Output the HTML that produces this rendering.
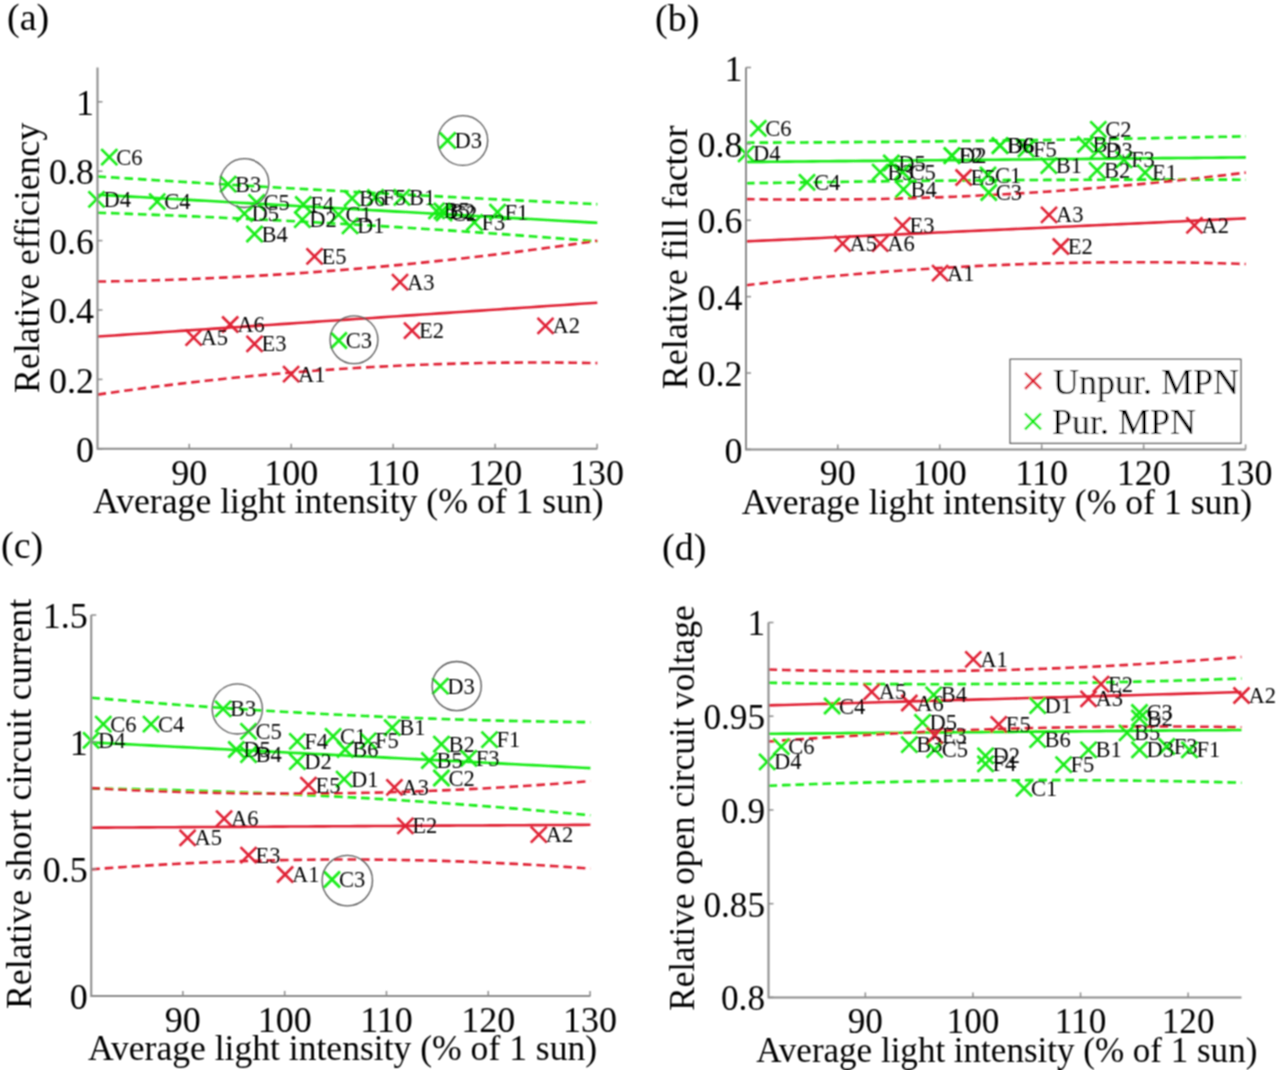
<!DOCTYPE html><html><head><meta charset="utf-8"><style>html,body{margin:0;padding:0;background:#fff;}svg{display:block;}</style></head><body>
<svg width="1280" height="1070" viewBox="0 0 1280 1070" font-family='"Liberation Serif", serif'>
<defs><filter id="bl" x="0" y="0" width="1280" height="1070" filterUnits="userSpaceOnUse"><feConvolveMatrix order="3" kernelMatrix="1 2 1 2 4 2 1 2 1" divisor="16" edgeMode="duplicate"/></filter></defs>
<rect width="1280" height="1070" fill="#fff"/>
<g filter="url(#bl)">
<polyline points="97.50,176.47 105.83,177.01 114.16,177.54 122.49,178.08 130.82,178.61 139.15,179.13 147.48,179.66 155.81,180.18 164.14,180.70 172.47,181.22 180.80,181.73 189.13,182.24 197.46,182.75 205.79,183.26 214.12,183.77 222.45,184.27 230.78,184.77 239.11,185.26 247.44,185.76 255.77,186.25 264.10,186.74 272.43,187.23 280.76,187.71 289.09,188.19 297.42,188.67 305.75,189.15 314.08,189.62 322.41,190.09 330.74,190.56 339.07,191.02 347.40,191.49 355.73,191.95 364.06,192.41 372.39,192.86 380.72,193.31 389.05,193.76 397.38,194.21 405.71,194.66 414.04,195.10 422.37,195.54 430.70,195.98 439.03,196.41 447.36,196.85 455.69,197.28 464.02,197.70 472.35,198.13 480.68,198.55 489.01,198.97 497.34,199.39 505.67,199.80 514.00,200.21 522.33,200.62 530.66,201.03 538.99,201.43 547.32,201.83 555.65,202.23 563.98,202.63 572.31,203.02 580.64,203.41 588.97,203.80 597.30,204.19" fill="none" stroke="#14ec14" stroke-width="2.6" stroke-dasharray="8.6 4.9"/>
<polyline points="97.50,194.73 105.83,195.20 114.16,195.66 122.49,196.13 130.82,196.60 139.15,197.07 147.48,197.54 155.81,198.01 164.14,198.47 172.47,198.94 180.80,199.41 189.13,199.88 197.46,200.35 205.79,200.81 214.12,201.28 222.45,201.75 230.78,202.22 239.11,202.69 247.44,203.15 255.77,203.62 264.10,204.09 272.43,204.56 280.76,205.03 289.09,205.50 297.42,205.96 305.75,206.43 314.08,206.90 322.41,207.37 330.74,207.84 339.07,208.30 347.40,208.77 355.73,209.24 364.06,209.71 372.39,210.18 380.72,210.65 389.05,211.11 397.38,211.58 405.71,212.05 414.04,212.52 422.37,212.99 430.70,213.45 439.03,213.92 447.36,214.39 455.69,214.86 464.02,215.33 472.35,215.79 480.68,216.26 489.01,216.73 497.34,217.20 505.67,217.67 514.00,218.14 522.33,218.60 530.66,219.07 538.99,219.54 547.32,220.01 555.65,220.48 563.98,220.94 572.31,221.41 580.64,221.88 588.97,222.35 597.30,222.82" fill="none" stroke="#14ec14" stroke-width="2.6"/>
<polyline points="97.50,212.68 105.83,212.97 114.16,213.26 122.49,213.56 130.82,213.87 139.15,214.19 147.48,214.51 155.81,214.84 164.14,215.17 172.47,215.51 180.80,215.86 189.13,216.21 197.46,216.57 205.79,216.94 214.12,217.31 222.45,217.69 230.78,218.08 239.11,218.47 247.44,218.87 255.77,219.27 264.10,219.69 272.43,220.10 280.76,220.53 289.09,220.96 297.42,221.39 305.75,221.84 314.08,222.29 322.41,222.74 330.74,223.21 339.07,223.67 347.40,224.15 355.73,224.63 364.06,225.12 372.39,225.61 380.72,226.11 389.05,226.62 397.38,227.14 405.71,227.66 414.04,228.18 422.37,228.71 430.70,229.25 439.03,229.80 447.36,230.35 455.69,230.91 464.02,231.48 472.35,232.05 480.68,232.62 489.01,233.21 497.34,233.80 505.67,234.40 514.00,235.00 522.33,235.61 530.66,236.22 538.99,236.85 547.32,237.48 555.65,238.11 563.98,238.75 572.31,239.40 580.64,240.05 588.97,240.72 597.30,241.38" fill="none" stroke="#14ec14" stroke-width="2.6" stroke-dasharray="8.6 4.9"/>
<polyline points="97.50,281.57 105.83,281.44 114.16,281.29 122.49,281.12 130.82,280.93 139.15,280.73 147.48,280.50 155.81,280.26 164.14,280.00 172.47,279.71 180.80,279.41 189.13,279.10 197.46,278.76 205.79,278.40 214.12,278.03 222.45,277.64 230.78,277.23 239.11,276.80 247.44,276.35 255.77,275.88 264.10,275.40 272.43,274.89 280.76,274.37 289.09,273.83 297.42,273.27 305.75,272.69 314.08,272.09 322.41,271.48 330.74,270.84 339.07,270.19 347.40,269.52 355.73,268.83 364.06,268.12 372.39,267.39 380.72,266.65 389.05,265.88 397.38,265.10 405.71,264.30 414.04,263.48 422.37,262.64 430.70,261.78 439.03,260.91 447.36,260.01 455.69,259.10 464.02,258.17 472.35,257.22 480.68,256.25 489.01,255.26 497.34,254.26 505.67,253.23 514.00,252.19 522.33,251.13 530.66,250.05 538.99,248.95 547.32,247.83 555.65,246.70 563.98,245.54 572.31,244.37 580.64,243.18 588.97,241.97 597.30,240.74" fill="none" stroke="#e02236" stroke-width="2.6" stroke-dasharray="8.6 4.9"/>
<polyline points="97.50,336.57 105.83,336.00 114.16,335.44 122.49,334.87 130.82,334.31 139.15,333.74 147.48,333.18 155.81,332.61 164.14,332.05 172.47,331.48 180.80,330.92 189.13,330.35 197.46,329.79 205.79,329.22 214.12,328.66 222.45,328.09 230.78,327.53 239.11,326.96 247.44,326.40 255.77,325.84 264.10,325.27 272.43,324.71 280.76,324.14 289.09,323.58 297.42,323.01 305.75,322.45 314.08,321.88 322.41,321.32 330.74,320.75 339.07,320.19 347.40,319.62 355.73,319.06 364.06,318.49 372.39,317.93 380.72,317.36 389.05,316.80 397.38,316.23 405.71,315.67 414.04,315.10 422.37,314.54 430.70,313.98 439.03,313.41 447.36,312.85 455.69,312.28 464.02,311.72 472.35,311.15 480.68,310.59 489.01,310.02 497.34,309.46 505.67,308.89 514.00,308.33 522.33,307.76 530.66,307.20 538.99,306.63 547.32,306.07 555.65,305.50 563.98,304.94 572.31,304.37 580.64,303.81 588.97,303.24 597.30,302.68" fill="none" stroke="#e02236" stroke-width="2.6"/>
<polyline points="97.50,394.60 105.83,393.40 114.16,392.22 122.49,391.06 130.82,389.93 139.15,388.81 147.48,387.72 155.81,386.66 164.14,385.62 172.47,384.60 180.80,383.60 189.13,382.62 197.46,381.67 205.79,380.75 214.12,379.84 222.45,378.96 230.78,378.10 239.11,377.26 247.44,376.45 255.77,375.66 264.10,374.89 272.43,374.15 280.76,373.43 289.09,372.73 297.42,372.06 305.75,371.41 314.08,370.78 322.41,370.17 330.74,369.59 339.07,369.03 347.40,368.49 355.73,367.98 364.06,367.49 372.39,367.02 380.72,366.58 389.05,366.16 397.38,365.76 405.71,365.38 414.04,365.03 422.37,364.70 430.70,364.39 439.03,364.11 447.36,363.85 455.69,363.61 464.02,363.40 472.35,363.21 480.68,363.04 489.01,362.89 497.34,362.77 505.67,362.67 514.00,362.60 522.33,362.54 530.66,362.51 538.99,362.51 547.32,362.52 555.65,362.56 563.98,362.62 572.31,362.71 580.64,362.82 588.97,362.95 597.30,363.10" fill="none" stroke="#e02236" stroke-width="2.6" stroke-dasharray="8.6 4.9"/>
<path d="M101.30 149.10L117.30 165.10M101.30 165.10L117.30 149.10" stroke="#14ec14" stroke-width="2.6"/>
<path d="M88.50 191.40L104.50 207.40M88.50 207.40L104.50 191.40" stroke="#14ec14" stroke-width="2.6"/>
<path d="M149.20 193.70L165.20 209.70M149.20 209.70L165.20 193.70" stroke="#14ec14" stroke-width="2.6"/>
<path d="M220.10 176.10L236.10 192.10M220.10 192.10L236.10 176.10" stroke="#14ec14" stroke-width="2.6"/>
<path d="M248.60 194.40L264.60 210.40M248.60 210.40L264.60 194.40" stroke="#14ec14" stroke-width="2.6"/>
<path d="M236.40 205.60L252.40 221.60M236.40 221.60L252.40 205.60" stroke="#14ec14" stroke-width="2.6"/>
<path d="M246.50 226.00L262.50 242.00M246.50 242.00L262.50 226.00" stroke="#14ec14" stroke-width="2.6"/>
<path d="M295.30 196.50L311.30 212.50M295.30 212.50L311.30 196.50" stroke="#14ec14" stroke-width="2.6"/>
<path d="M294.30 211.70L310.30 227.70M294.30 227.70L310.30 211.70" stroke="#14ec14" stroke-width="2.6"/>
<path d="M344.10 190.40L360.10 206.40M344.10 206.40L360.10 190.40" stroke="#14ec14" stroke-width="2.6"/>
<path d="M330.50 206.60L346.50 222.60M330.50 222.60L346.50 206.60" stroke="#14ec14" stroke-width="2.6"/>
<path d="M342.00 217.80L358.00 233.80M342.00 233.80L358.00 217.80" stroke="#14ec14" stroke-width="2.6"/>
<path d="M367.50 189.30L383.50 205.30M367.50 205.30L383.50 189.30" stroke="#14ec14" stroke-width="2.6"/>
<path d="M393.90 189.30L409.90 205.30M393.90 205.30L409.90 189.30" stroke="#14ec14" stroke-width="2.6"/>
<path d="M439.60 132.50L455.60 148.50M439.60 148.50L455.60 132.50" stroke="#14ec14" stroke-width="2.6"/>
<path d="M428.50 202.80L444.50 218.80M428.50 218.80L444.50 202.80" stroke="#14ec14" stroke-width="2.6"/>
<path d="M436.00 205.00L452.00 221.00M436.00 221.00L452.00 205.00" stroke="#14ec14" stroke-width="2.6"/>
<path d="M434.00 203.00L450.00 219.00M434.00 219.00L450.00 203.00" stroke="#14ec14" stroke-width="2.6"/>
<path d="M330.80 332.50L346.80 348.50M330.80 348.50L346.80 332.50" stroke="#14ec14" stroke-width="2.6"/>
<path d="M466.40 214.30L482.40 230.30M466.40 230.30L482.40 214.30" stroke="#14ec14" stroke-width="2.6"/>
<path d="M489.50 204.20L505.50 220.20M489.50 220.20L505.50 204.20" stroke="#14ec14" stroke-width="2.6"/>
<path d="M306.50 248.40L322.50 264.40M306.50 264.40L322.50 248.40" stroke="#e02236" stroke-width="2.6"/>
<path d="M392.00 274.10L408.00 290.10M392.00 290.10L408.00 274.10" stroke="#e02236" stroke-width="2.6"/>
<path d="M222.20 316.50L238.20 332.50M222.20 332.50L238.20 316.50" stroke="#e02236" stroke-width="2.6"/>
<path d="M185.60 329.70L201.60 345.70M185.60 345.70L201.60 329.70" stroke="#e02236" stroke-width="2.6"/>
<path d="M246.50 335.80L262.50 351.80M246.50 351.80L262.50 335.80" stroke="#e02236" stroke-width="2.6"/>
<path d="M283.10 366.20L299.10 382.20M283.10 382.20L299.10 366.20" stroke="#e02236" stroke-width="2.6"/>
<path d="M404.00 322.60L420.00 338.60M404.00 338.60L420.00 322.60" stroke="#e02236" stroke-width="2.6"/>
<path d="M537.50 317.80L553.50 333.80M537.50 333.80L553.50 317.80" stroke="#e02236" stroke-width="2.6"/>
<circle cx="244.40" cy="183.10" r="24.40" fill="none" stroke="#555" stroke-width="1.3"/>
<circle cx="462.80" cy="140.50" r="24.90" fill="none" stroke="#555" stroke-width="1.3"/>
<circle cx="354.00" cy="339.80" r="23.90" fill="none" stroke="#555" stroke-width="1.3"/>
<text x="116.30" y="164.60" font-size="22.5" text-anchor="start" fill="#000">C6</text>
<text x="103.50" y="206.90" font-size="22.5" text-anchor="start" fill="#000">D4</text>
<text x="164.20" y="209.20" font-size="22.5" text-anchor="start" fill="#000">C4</text>
<text x="235.10" y="191.60" font-size="22.5" text-anchor="start" fill="#000">B3</text>
<text x="263.60" y="209.90" font-size="22.5" text-anchor="start" fill="#000">C5</text>
<text x="251.40" y="221.10" font-size="22.5" text-anchor="start" fill="#000">D5</text>
<text x="261.50" y="241.50" font-size="22.5" text-anchor="start" fill="#000">B4</text>
<text x="310.30" y="212.00" font-size="22.5" text-anchor="start" fill="#000">F4</text>
<text x="309.30" y="227.20" font-size="22.5" text-anchor="start" fill="#000">D2</text>
<text x="359.10" y="205.90" font-size="22.5" text-anchor="start" fill="#000">B6</text>
<text x="345.50" y="222.10" font-size="22.5" text-anchor="start" fill="#000">C1</text>
<text x="357.00" y="233.30" font-size="22.5" text-anchor="start" fill="#000">D1</text>
<text x="382.50" y="204.80" font-size="22.5" text-anchor="start" fill="#000">F5</text>
<text x="408.90" y="204.80" font-size="22.5" text-anchor="start" fill="#000">B1</text>
<text x="454.60" y="148.00" font-size="22.5" text-anchor="start" fill="#000">D3</text>
<text x="443.50" y="218.30" font-size="22.5" text-anchor="start" fill="#000">B5</text>
<text x="451.00" y="220.50" font-size="22.5" text-anchor="start" fill="#000">C2</text>
<text x="449.00" y="218.50" font-size="22.5" text-anchor="start" fill="#000">B2</text>
<text x="345.80" y="348.00" font-size="22.5" text-anchor="start" fill="#000">C3</text>
<text x="481.40" y="229.80" font-size="22.5" text-anchor="start" fill="#000">F3</text>
<text x="504.50" y="219.70" font-size="22.5" text-anchor="start" fill="#000">F1</text>
<text x="321.50" y="263.90" font-size="22.5" text-anchor="start" fill="#000">E5</text>
<text x="407.00" y="289.60" font-size="22.5" text-anchor="start" fill="#000">A3</text>
<text x="237.20" y="332.00" font-size="22.5" text-anchor="start" fill="#000">A6</text>
<text x="200.60" y="345.20" font-size="22.5" text-anchor="start" fill="#000">A5</text>
<text x="261.50" y="351.30" font-size="22.5" text-anchor="start" fill="#000">E3</text>
<text x="298.10" y="381.70" font-size="22.5" text-anchor="start" fill="#000">A1</text>
<text x="419.00" y="338.10" font-size="22.5" text-anchor="start" fill="#000">E2</text>
<text x="552.50" y="333.30" font-size="22.5" text-anchor="start" fill="#000">A2</text>
<path d="M97.5 67.5L97.5 448.8L597.3 448.8" fill="none" stroke="#8c8c8c" stroke-width="2"/>
<line x1="189.26" y1="448.80" x2="189.26" y2="443.80" stroke="#8c8c8c" stroke-width="1.5"/>
<text x="189.26" y="484.80" font-size="36" text-anchor="middle" fill="#000">90</text>
<line x1="291.22" y1="448.80" x2="291.22" y2="443.80" stroke="#8c8c8c" stroke-width="1.5"/>
<text x="291.22" y="484.80" font-size="36" text-anchor="middle" fill="#000">100</text>
<line x1="393.18" y1="448.80" x2="393.18" y2="443.80" stroke="#8c8c8c" stroke-width="1.5"/>
<text x="393.18" y="484.80" font-size="36" text-anchor="middle" fill="#000">110</text>
<line x1="495.14" y1="448.80" x2="495.14" y2="443.80" stroke="#8c8c8c" stroke-width="1.5"/>
<text x="495.14" y="484.80" font-size="36" text-anchor="middle" fill="#000">120</text>
<line x1="597.10" y1="448.80" x2="597.10" y2="443.80" stroke="#8c8c8c" stroke-width="1.5"/>
<text x="597.10" y="484.80" font-size="36" text-anchor="middle" fill="#000">130</text>
<line x1="97.50" y1="448.80" x2="102.50" y2="448.80" stroke="#8c8c8c" stroke-width="1.5"/>
<text x="94.00" y="462.01" font-size="36" text-anchor="end" fill="#000">0</text>
<line x1="97.50" y1="379.40" x2="102.50" y2="379.40" stroke="#8c8c8c" stroke-width="1.5"/>
<text x="94.00" y="392.61" font-size="36" text-anchor="end" fill="#000">0.2</text>
<line x1="97.50" y1="310.00" x2="102.50" y2="310.00" stroke="#8c8c8c" stroke-width="1.5"/>
<text x="94.00" y="323.21" font-size="36" text-anchor="end" fill="#000">0.4</text>
<line x1="97.50" y1="240.60" x2="102.50" y2="240.60" stroke="#8c8c8c" stroke-width="1.5"/>
<text x="94.00" y="253.81" font-size="36" text-anchor="end" fill="#000">0.6</text>
<line x1="97.50" y1="171.20" x2="102.50" y2="171.20" stroke="#8c8c8c" stroke-width="1.5"/>
<text x="94.00" y="184.41" font-size="36" text-anchor="end" fill="#000">0.8</text>
<line x1="97.50" y1="101.80" x2="102.50" y2="101.80" stroke="#8c8c8c" stroke-width="1.5"/>
<text x="94.00" y="115.01" font-size="36" text-anchor="end" fill="#000">1</text>
<text x="348.40" y="513.30" font-size="35.7" text-anchor="middle" fill="#000">Average light intensity (% of 1 sun)</text>
<text x="0" y="0" font-size="35.75" text-anchor="middle" transform="translate(38.50,257.90) rotate(-90)">Relative efficiency</text>
<text x="7.00" y="30.00" font-size="38" text-anchor="start" fill="#000">(a)</text>
<polyline points="746.00,142.70 754.33,142.67 762.66,142.64 770.99,142.60 779.32,142.56 787.65,142.52 795.98,142.48 804.31,142.43 812.64,142.38 820.97,142.33 829.30,142.28 837.63,142.22 845.96,142.16 854.29,142.10 862.62,142.03 870.95,141.97 879.28,141.90 887.61,141.83 895.94,141.75 904.27,141.67 912.60,141.59 920.93,141.51 929.26,141.43 937.59,141.34 945.92,141.25 954.25,141.16 962.58,141.06 970.91,140.96 979.24,140.86 987.57,140.76 995.90,140.65 1004.23,140.54 1012.56,140.43 1020.89,140.32 1029.22,140.20 1037.55,140.09 1045.88,139.96 1054.21,139.84 1062.54,139.71 1070.87,139.59 1079.20,139.45 1087.53,139.32 1095.86,139.18 1104.19,139.04 1112.52,138.90 1120.85,138.76 1129.18,138.61 1137.51,138.46 1145.84,138.31 1154.17,138.15 1162.50,138.00 1170.83,137.84 1179.16,137.68 1187.49,137.51 1195.82,137.34 1204.15,137.17 1212.48,137.00 1220.81,136.82 1229.14,136.65 1237.47,136.47 1245.80,136.28" fill="none" stroke="#14ec14" stroke-width="2.6" stroke-dasharray="8.6 4.9"/>
<polyline points="746.00,162.00 754.33,161.92 762.66,161.85 770.99,161.77 779.32,161.69 787.65,161.62 795.98,161.54 804.31,161.46 812.64,161.39 820.97,161.31 829.30,161.23 837.63,161.16 845.96,161.08 854.29,161.00 862.62,160.92 870.95,160.85 879.28,160.77 887.61,160.69 895.94,160.62 904.27,160.54 912.60,160.46 920.93,160.39 929.26,160.31 937.59,160.23 945.92,160.16 954.25,160.08 962.58,160.00 970.91,159.93 979.24,159.85 987.57,159.77 995.90,159.70 1004.23,159.62 1012.56,159.54 1020.89,159.47 1029.22,159.39 1037.55,159.31 1045.88,159.24 1054.21,159.16 1062.54,159.08 1070.87,159.01 1079.20,158.93 1087.53,158.85 1095.86,158.77 1104.19,158.70 1112.52,158.62 1120.85,158.54 1129.18,158.47 1137.51,158.39 1145.84,158.31 1154.17,158.24 1162.50,158.16 1170.83,158.08 1179.16,158.01 1187.49,157.93 1195.82,157.85 1204.15,157.78 1212.48,157.70 1220.81,157.62 1229.14,157.55 1237.47,157.47 1245.80,157.39" fill="none" stroke="#14ec14" stroke-width="2.6"/>
<polyline points="746.00,183.30 754.33,183.16 762.66,183.02 770.99,182.88 779.32,182.74 787.65,182.61 795.98,182.48 804.31,182.36 812.64,182.23 820.97,182.11 829.30,181.99 837.63,181.88 845.96,181.77 854.29,181.66 862.62,181.55 870.95,181.45 879.28,181.35 887.61,181.25 895.94,181.15 904.27,181.06 912.60,180.97 920.93,180.88 929.26,180.80 937.59,180.72 945.92,180.64 954.25,180.56 962.58,180.49 970.91,180.42 979.24,180.35 987.57,180.29 995.90,180.23 1004.23,180.17 1012.56,180.11 1020.89,180.06 1029.22,180.01 1037.55,179.96 1045.88,179.92 1054.21,179.88 1062.54,179.84 1070.87,179.80 1079.20,179.77 1087.53,179.74 1095.86,179.71 1104.19,179.69 1112.52,179.67 1120.85,179.65 1129.18,179.63 1137.51,179.62 1145.84,179.61 1154.17,179.60 1162.50,179.60 1170.83,179.59 1179.16,179.59 1187.49,179.60 1195.82,179.60 1204.15,179.61 1212.48,179.63 1220.81,179.64 1229.14,179.66 1237.47,179.68 1245.80,179.70" fill="none" stroke="#14ec14" stroke-width="2.6" stroke-dasharray="8.6 4.9"/>
<polyline points="746.00,199.10 754.33,199.24 762.66,199.36 770.99,199.46 779.32,199.54 787.65,199.60 795.98,199.64 804.31,199.66 812.64,199.67 820.97,199.65 829.30,199.61 837.63,199.55 845.96,199.48 854.29,199.38 862.62,199.26 870.95,199.13 879.28,198.97 887.61,198.80 895.94,198.60 904.27,198.39 912.60,198.15 920.93,197.90 929.26,197.62 937.59,197.33 945.92,197.01 954.25,196.68 962.58,196.33 970.91,195.96 979.24,195.56 987.57,195.15 995.90,194.72 1004.23,194.27 1012.56,193.80 1020.89,193.31 1029.22,192.80 1037.55,192.27 1045.88,191.72 1054.21,191.15 1062.54,190.56 1070.87,189.95 1079.20,189.32 1087.53,188.67 1095.86,188.00 1104.19,187.31 1112.52,186.61 1120.85,185.88 1129.18,185.13 1137.51,184.36 1145.84,183.58 1154.17,182.77 1162.50,181.94 1170.83,181.10 1179.16,180.23 1187.49,179.35 1195.82,178.44 1204.15,177.52 1212.48,176.57 1220.81,175.61 1229.14,174.63 1237.47,173.62 1245.80,172.60" fill="none" stroke="#e02236" stroke-width="2.6" stroke-dasharray="8.6 4.9"/>
<polyline points="746.00,241.40 754.33,241.02 762.66,240.63 770.99,240.25 779.32,239.86 787.65,239.48 795.98,239.10 804.31,238.71 812.64,238.33 820.97,237.94 829.30,237.56 837.63,237.18 845.96,236.79 854.29,236.41 862.62,236.02 870.95,235.64 879.28,235.26 887.61,234.87 895.94,234.49 904.27,234.10 912.60,233.72 920.93,233.34 929.26,232.95 937.59,232.57 945.92,232.19 954.25,231.80 962.58,231.42 970.91,231.03 979.24,230.65 987.57,230.27 995.90,229.88 1004.23,229.50 1012.56,229.11 1020.89,228.73 1029.22,228.35 1037.55,227.96 1045.88,227.58 1054.21,227.19 1062.54,226.81 1070.87,226.43 1079.20,226.04 1087.53,225.66 1095.86,225.27 1104.19,224.89 1112.52,224.51 1120.85,224.12 1129.18,223.74 1137.51,223.35 1145.84,222.97 1154.17,222.59 1162.50,222.20 1170.83,221.82 1179.16,221.43 1187.49,221.05 1195.82,220.67 1204.15,220.28 1212.48,219.90 1220.81,219.51 1229.14,219.13 1237.47,218.75 1245.80,218.36" fill="none" stroke="#e02236" stroke-width="2.6"/>
<polyline points="746.00,285.30 754.33,284.32 762.66,283.37 770.99,282.43 779.32,281.52 787.65,280.63 795.98,279.76 804.31,278.91 812.64,278.08 820.97,277.27 829.30,276.48 837.63,275.72 845.96,274.97 854.29,274.25 862.62,273.54 870.95,272.86 879.28,272.20 887.61,271.56 895.94,270.95 904.27,270.35 912.60,269.77 920.93,269.22 929.26,268.68 937.59,268.17 945.92,267.68 954.25,267.21 962.58,266.76 970.91,266.33 979.24,265.92 987.57,265.54 995.90,265.17 1004.23,264.83 1012.56,264.51 1020.89,264.20 1029.22,263.92 1037.55,263.66 1045.88,263.42 1054.21,263.21 1062.54,263.01 1070.87,262.84 1079.20,262.68 1087.53,262.55 1095.86,262.44 1104.19,262.34 1112.52,262.28 1120.85,262.23 1129.18,262.20 1137.51,262.19 1145.84,262.21 1154.17,262.24 1162.50,262.30 1170.83,262.38 1179.16,262.48 1187.49,262.60 1195.82,262.74 1204.15,262.90 1212.48,263.08 1220.81,263.29 1229.14,263.51 1237.47,263.76 1245.80,264.03" fill="none" stroke="#e02236" stroke-width="2.6" stroke-dasharray="8.6 4.9"/>
<path d="M750.30 120.40L766.30 136.40M750.30 136.40L766.30 120.40" stroke="#14ec14" stroke-width="2.6"/>
<path d="M738.10 145.80L754.10 161.80M738.10 161.80L754.10 145.80" stroke="#14ec14" stroke-width="2.6"/>
<path d="M799.00 174.30L815.00 190.30M799.00 190.30L815.00 174.30" stroke="#14ec14" stroke-width="2.6"/>
<path d="M872.20 164.10L888.20 180.10M872.20 180.10L888.20 164.10" stroke="#14ec14" stroke-width="2.6"/>
<path d="M883.30 155.00L899.30 171.00M883.30 171.00L899.30 155.00" stroke="#14ec14" stroke-width="2.6"/>
<path d="M894.50 164.00L910.50 180.00M894.50 180.00L910.50 164.00" stroke="#14ec14" stroke-width="2.6"/>
<path d="M895.50 181.40L911.50 197.40M895.50 197.40L911.50 181.40" stroke="#14ec14" stroke-width="2.6"/>
<path d="M943.90 147.60L959.90 163.60M943.90 163.60L959.90 147.60" stroke="#14ec14" stroke-width="2.6"/>
<path d="M943.90 147.60L959.90 163.60M943.90 163.60L959.90 147.60" stroke="#14ec14" stroke-width="2.6"/>
<path d="M992.00 137.60L1008.00 153.60M992.00 153.60L1008.00 137.60" stroke="#14ec14" stroke-width="2.6"/>
<path d="M992.00 137.60L1008.00 153.60M992.00 153.60L1008.00 137.60" stroke="#14ec14" stroke-width="2.6"/>
<path d="M1018.00 141.00L1034.00 157.00M1018.00 157.00L1034.00 141.00" stroke="#14ec14" stroke-width="2.6"/>
<path d="M1040.75 157.60L1056.75 173.60M1040.75 173.60L1056.75 157.60" stroke="#14ec14" stroke-width="2.6"/>
<path d="M980.00 167.00L996.00 183.00M980.00 183.00L996.00 167.00" stroke="#14ec14" stroke-width="2.6"/>
<path d="M980.75 184.50L996.75 200.50M980.75 200.50L996.75 184.50" stroke="#14ec14" stroke-width="2.6"/>
<path d="M1090.30 121.30L1106.30 137.30M1090.30 137.30L1106.30 121.30" stroke="#14ec14" stroke-width="2.6"/>
<path d="M1077.40 136.50L1093.40 152.50M1077.40 152.50L1093.40 136.50" stroke="#14ec14" stroke-width="2.6"/>
<path d="M1090.30 142.40L1106.30 158.40M1090.30 158.40L1106.30 142.40" stroke="#14ec14" stroke-width="2.6"/>
<path d="M1089.10 162.30L1105.10 178.30M1089.10 178.30L1105.10 162.30" stroke="#14ec14" stroke-width="2.6"/>
<path d="M1116.00 151.80L1132.00 167.80M1116.00 167.80L1132.00 151.80" stroke="#14ec14" stroke-width="2.6"/>
<path d="M1137.10 164.70L1153.10 180.70M1137.10 180.70L1153.10 164.70" stroke="#14ec14" stroke-width="2.6"/>
<path d="M955.60 169.50L971.60 185.50M955.60 185.50L971.60 169.50" stroke="#e02236" stroke-width="2.6"/>
<path d="M894.50 217.40L910.50 233.40M894.50 233.40L910.50 217.40" stroke="#e02236" stroke-width="2.6"/>
<path d="M834.60 235.70L850.60 251.70M834.60 251.70L850.60 235.70" stroke="#e02236" stroke-width="2.6"/>
<path d="M872.20 235.70L888.20 251.70M872.20 251.70L888.20 235.70" stroke="#e02236" stroke-width="2.6"/>
<path d="M1041.00 206.80L1057.00 222.80M1041.00 222.80L1057.00 206.80" stroke="#e02236" stroke-width="2.6"/>
<path d="M1052.80 238.50L1068.80 254.50M1052.80 254.50L1068.80 238.50" stroke="#e02236" stroke-width="2.6"/>
<path d="M1186.40 217.40L1202.40 233.40M1186.40 233.40L1202.40 217.40" stroke="#e02236" stroke-width="2.6"/>
<path d="M932.10 265.10L948.10 281.10M932.10 281.10L948.10 265.10" stroke="#e02236" stroke-width="2.6"/>
<text x="765.30" y="135.90" font-size="22.5" text-anchor="start" fill="#000">C6</text>
<text x="753.10" y="161.30" font-size="22.5" text-anchor="start" fill="#000">D4</text>
<text x="814.00" y="189.80" font-size="22.5" text-anchor="start" fill="#000">C4</text>
<text x="887.20" y="179.60" font-size="22.5" text-anchor="start" fill="#000">B3</text>
<text x="898.30" y="170.50" font-size="22.5" text-anchor="start" fill="#000">D5</text>
<text x="909.50" y="179.50" font-size="22.5" text-anchor="start" fill="#000">C5</text>
<text x="910.50" y="196.90" font-size="22.5" text-anchor="start" fill="#000">B4</text>
<text x="958.90" y="163.10" font-size="22.5" text-anchor="start" fill="#000">D2</text>
<text x="958.90" y="163.10" font-size="22.5" text-anchor="start" fill="#000">F2</text>
<text x="1007.00" y="153.10" font-size="22.5" text-anchor="start" fill="#000">B6</text>
<text x="1007.00" y="153.10" font-size="22.5" text-anchor="start" fill="#000">D6</text>
<text x="1033.00" y="156.50" font-size="22.5" text-anchor="start" fill="#000">F5</text>
<text x="1055.75" y="173.10" font-size="22.5" text-anchor="start" fill="#000">B1</text>
<text x="995.00" y="182.50" font-size="22.5" text-anchor="start" fill="#000">C1</text>
<text x="995.75" y="200.00" font-size="22.5" text-anchor="start" fill="#000">C3</text>
<text x="1105.30" y="136.80" font-size="22.5" text-anchor="start" fill="#000">C2</text>
<text x="1092.40" y="152.00" font-size="22.5" text-anchor="start" fill="#000">B5</text>
<text x="1105.30" y="157.90" font-size="22.5" text-anchor="start" fill="#000">D3</text>
<text x="1104.10" y="177.80" font-size="22.5" text-anchor="start" fill="#000">B2</text>
<text x="1131.00" y="167.30" font-size="22.5" text-anchor="start" fill="#000">F3</text>
<text x="1152.10" y="180.20" font-size="22.5" text-anchor="start" fill="#000">E1</text>
<text x="970.60" y="185.00" font-size="22.5" text-anchor="start" fill="#000">E5</text>
<text x="909.50" y="232.90" font-size="22.5" text-anchor="start" fill="#000">E3</text>
<text x="849.60" y="251.20" font-size="22.5" text-anchor="start" fill="#000">A5</text>
<text x="887.20" y="251.20" font-size="22.5" text-anchor="start" fill="#000">A6</text>
<text x="1056.00" y="222.30" font-size="22.5" text-anchor="start" fill="#000">A3</text>
<text x="1067.80" y="254.00" font-size="22.5" text-anchor="start" fill="#000">E2</text>
<text x="1201.40" y="232.90" font-size="22.5" text-anchor="start" fill="#000">A2</text>
<text x="947.10" y="280.60" font-size="22.5" text-anchor="start" fill="#000">A1</text>
<path d="M746 67.5L746 449.4L1245.8 449.4" fill="none" stroke="#8c8c8c" stroke-width="2"/>
<line x1="837.76" y1="449.40" x2="837.76" y2="444.40" stroke="#8c8c8c" stroke-width="1.5"/>
<text x="837.76" y="485.40" font-size="36" text-anchor="middle" fill="#000">90</text>
<line x1="939.72" y1="449.40" x2="939.72" y2="444.40" stroke="#8c8c8c" stroke-width="1.5"/>
<text x="939.72" y="485.40" font-size="36" text-anchor="middle" fill="#000">100</text>
<line x1="1041.68" y1="449.40" x2="1041.68" y2="444.40" stroke="#8c8c8c" stroke-width="1.5"/>
<text x="1041.68" y="485.40" font-size="36" text-anchor="middle" fill="#000">110</text>
<line x1="1143.64" y1="449.40" x2="1143.64" y2="444.40" stroke="#8c8c8c" stroke-width="1.5"/>
<text x="1143.64" y="485.40" font-size="36" text-anchor="middle" fill="#000">120</text>
<line x1="1245.60" y1="449.40" x2="1245.60" y2="444.40" stroke="#8c8c8c" stroke-width="1.5"/>
<text x="1245.60" y="485.40" font-size="36" text-anchor="middle" fill="#000">130</text>
<line x1="746.00" y1="449.40" x2="751.00" y2="449.40" stroke="#8c8c8c" stroke-width="1.5"/>
<text x="742.50" y="462.61" font-size="36" text-anchor="end" fill="#000">0</text>
<line x1="746.00" y1="373.02" x2="751.00" y2="373.02" stroke="#8c8c8c" stroke-width="1.5"/>
<text x="742.50" y="386.23" font-size="36" text-anchor="end" fill="#000">0.2</text>
<line x1="746.00" y1="296.64" x2="751.00" y2="296.64" stroke="#8c8c8c" stroke-width="1.5"/>
<text x="742.50" y="309.85" font-size="36" text-anchor="end" fill="#000">0.4</text>
<line x1="746.00" y1="220.26" x2="751.00" y2="220.26" stroke="#8c8c8c" stroke-width="1.5"/>
<text x="742.50" y="233.47" font-size="36" text-anchor="end" fill="#000">0.6</text>
<line x1="746.00" y1="143.88" x2="751.00" y2="143.88" stroke="#8c8c8c" stroke-width="1.5"/>
<text x="742.50" y="157.09" font-size="36" text-anchor="end" fill="#000">0.8</text>
<line x1="746.00" y1="67.50" x2="751.00" y2="67.50" stroke="#8c8c8c" stroke-width="1.5"/>
<text x="742.50" y="80.71" font-size="36" text-anchor="end" fill="#000">1</text>
<text x="996.90" y="513.90" font-size="35.67" text-anchor="middle" fill="#000">Average light intensity (% of 1 sun)</text>
<text x="0" y="0" font-size="36.0" text-anchor="middle" transform="translate(686.50,257.35) rotate(-90)">Relative fill factor</text>
<text x="655.00" y="31.00" font-size="38" text-anchor="start" fill="#000">(b)</text>
<polyline points="91.25,697.72 99.57,698.45 107.89,699.16 116.21,699.86 124.53,700.56 132.85,701.24 141.16,701.91 149.48,702.57 157.80,703.22 166.12,703.86 174.44,704.49 182.76,705.11 191.08,705.71 199.40,706.31 207.72,706.89 216.04,707.47 224.36,708.03 232.68,708.58 240.99,709.13 249.31,709.66 257.63,710.18 265.95,710.69 274.27,711.19 282.59,711.68 290.91,712.16 299.23,712.62 307.55,713.08 315.87,713.52 324.19,713.96 332.51,714.38 340.82,714.80 349.14,715.20 357.46,715.59 365.78,715.97 374.10,716.34 382.42,716.70 390.74,717.05 399.06,717.39 407.38,717.72 415.70,718.03 424.02,718.34 432.34,718.64 440.65,718.92 448.97,719.19 457.29,719.46 465.61,719.71 473.93,719.95 482.25,720.18 490.57,720.40 498.89,720.61 507.21,720.81 515.53,721.00 523.85,721.17 532.17,721.34 540.48,721.50 548.80,721.64 557.12,721.78 565.44,721.90 573.76,722.01 582.08,722.11 590.40,722.20" fill="none" stroke="#14ec14" stroke-width="2.6" stroke-dasharray="8.6 4.9"/>
<polyline points="91.25,742.41 99.57,742.84 107.89,743.27 116.21,743.70 124.53,744.13 132.85,744.56 141.16,744.98 149.48,745.41 157.80,745.84 166.12,746.27 174.44,746.70 182.76,747.13 191.08,747.55 199.40,747.98 207.72,748.41 216.04,748.84 224.36,749.27 232.68,749.70 240.99,750.13 249.31,750.55 257.63,750.98 265.95,751.41 274.27,751.84 282.59,752.27 290.91,752.70 299.23,753.12 307.55,753.55 315.87,753.98 324.19,754.41 332.51,754.84 340.82,755.27 349.14,755.70 357.46,756.12 365.78,756.55 374.10,756.98 382.42,757.41 390.74,757.84 399.06,758.27 407.38,758.69 415.70,759.12 424.02,759.55 432.34,759.98 440.65,760.41 448.97,760.84 457.29,761.27 465.61,761.69 473.93,762.12 482.25,762.55 490.57,762.98 498.89,763.41 507.21,763.84 515.53,764.26 523.85,764.69 532.17,765.12 540.48,765.55 548.80,765.98 557.12,766.41 565.44,766.84 573.76,767.26 582.08,767.69 590.40,768.12" fill="none" stroke="#14ec14" stroke-width="2.6"/>
<polyline points="91.25,788.50 99.57,788.61 107.89,788.74 116.21,788.87 124.53,789.02 132.85,789.17 141.16,789.34 149.48,789.52 157.80,789.71 166.12,789.91 174.44,790.13 182.76,790.35 191.08,790.59 199.40,790.84 207.72,791.10 216.04,791.37 224.36,791.65 232.68,791.94 240.99,792.24 249.31,792.56 257.63,792.89 265.95,793.22 274.27,793.57 282.59,793.93 290.91,794.31 299.23,794.69 307.55,795.08 315.87,795.49 324.19,795.91 332.51,796.34 340.82,796.77 349.14,797.23 357.46,797.69 365.78,798.16 374.10,798.65 382.42,799.14 390.74,799.65 399.06,800.17 407.38,800.70 415.70,801.24 424.02,801.80 432.34,802.36 440.65,802.94 448.97,803.52 457.29,804.12 465.61,804.73 473.93,805.35 482.25,805.99 490.57,806.63 498.89,807.28 507.21,807.95 515.53,808.63 523.85,809.32 532.17,810.02 540.48,810.73 548.80,811.45 557.12,812.19 565.44,812.93 573.76,813.69 582.08,814.46 590.40,815.24" fill="none" stroke="#14ec14" stroke-width="2.6" stroke-dasharray="8.6 4.9"/>
<polyline points="91.25,788.11 99.57,788.56 107.89,789.00 116.21,789.41 124.53,789.80 132.85,790.18 141.16,790.53 149.48,790.87 157.80,791.18 166.12,791.48 174.44,791.76 182.76,792.01 191.08,792.25 199.40,792.47 207.72,792.67 216.04,792.86 224.36,793.02 232.68,793.16 240.99,793.28 249.31,793.39 257.63,793.47 265.95,793.54 274.27,793.58 282.59,793.61 290.91,793.62 299.23,793.61 307.55,793.58 315.87,793.53 324.19,793.46 332.51,793.37 340.82,793.26 349.14,793.13 357.46,792.99 365.78,792.82 374.10,792.64 382.42,792.43 390.74,792.21 399.06,791.97 407.38,791.71 415.70,791.42 424.02,791.12 432.34,790.80 440.65,790.46 448.97,790.11 457.29,789.73 465.61,789.33 473.93,788.92 482.25,788.48 490.57,788.03 498.89,787.55 507.21,787.06 515.53,786.55 523.85,786.01 532.17,785.46 540.48,784.89 548.80,784.30 557.12,783.69 565.44,783.07 573.76,782.42 582.08,781.75 590.40,781.07" fill="none" stroke="#e02236" stroke-width="2.6" stroke-dasharray="8.6 4.9"/>
<polyline points="91.25,827.70 99.57,827.65 107.89,827.60 116.21,827.55 124.53,827.51 132.85,827.46 141.16,827.41 149.48,827.36 157.80,827.31 166.12,827.26 174.44,827.22 182.76,827.17 191.08,827.12 199.40,827.07 207.72,827.02 216.04,826.97 224.36,826.92 232.68,826.88 240.99,826.83 249.31,826.78 257.63,826.73 265.95,826.68 274.27,826.63 282.59,826.59 290.91,826.54 299.23,826.49 307.55,826.44 315.87,826.39 324.19,826.34 332.51,826.30 340.82,826.25 349.14,826.20 357.46,826.15 365.78,826.10 374.10,826.05 382.42,826.01 390.74,825.96 399.06,825.91 407.38,825.86 415.70,825.81 424.02,825.76 432.34,825.72 440.65,825.67 448.97,825.62 457.29,825.57 465.61,825.52 473.93,825.47 482.25,825.43 490.57,825.38 498.89,825.33 507.21,825.28 515.53,825.23 523.85,825.18 532.17,825.14 540.48,825.09 548.80,825.04 557.12,824.99 565.44,824.94 573.76,824.89 582.08,824.85 590.40,824.80" fill="none" stroke="#e02236" stroke-width="2.6"/>
<polyline points="91.25,869.38 99.57,868.75 107.89,868.13 116.21,867.54 124.53,866.97 132.85,866.41 141.16,865.88 149.48,865.38 157.80,864.89 166.12,864.42 174.44,863.98 182.76,863.55 191.08,863.15 199.40,862.77 207.72,862.41 216.04,862.07 224.36,861.75 232.68,861.45 240.99,861.17 249.31,860.92 257.63,860.68 265.95,860.47 274.27,860.28 282.59,860.11 290.91,859.96 299.23,859.83 307.55,859.72 315.87,859.64 324.19,859.57 332.51,859.53 340.82,859.50 349.14,859.50 357.46,859.52 365.78,859.56 374.10,859.62 382.42,859.70 390.74,859.81 399.06,859.93 407.38,860.08 415.70,860.25 424.02,860.43 432.34,860.64 440.65,860.87 448.97,861.13 457.29,861.40 465.61,861.69 473.93,862.01 482.25,862.34 490.57,862.70 498.89,863.08 507.21,863.48 515.53,863.90 523.85,864.34 532.17,864.80 540.48,865.28 548.80,865.79 557.12,866.32 565.44,866.86 573.76,867.43 582.08,868.02 590.40,868.63" fill="none" stroke="#e02236" stroke-width="2.6" stroke-dasharray="8.6 4.9"/>
<path d="M83.10 732.40L99.10 748.40M83.10 748.40L99.10 732.40" stroke="#14ec14" stroke-width="2.6"/>
<path d="M95.30 716.10L111.30 732.10M95.30 732.10L111.30 716.10" stroke="#14ec14" stroke-width="2.6"/>
<path d="M143.00 716.10L159.00 732.10M143.00 732.10L159.00 716.10" stroke="#14ec14" stroke-width="2.6"/>
<path d="M215.10 700.90L231.10 716.90M215.10 716.90L231.10 700.90" stroke="#14ec14" stroke-width="2.6"/>
<path d="M240.50 723.30L256.50 739.30M240.50 739.30L256.50 723.30" stroke="#14ec14" stroke-width="2.6"/>
<path d="M228.30 741.50L244.30 757.50M228.30 757.50L244.30 741.50" stroke="#14ec14" stroke-width="2.6"/>
<path d="M240.50 746.60L256.50 762.60M240.50 762.60L256.50 746.60" stroke="#14ec14" stroke-width="2.6"/>
<path d="M289.30 733.40L305.30 749.40M289.30 749.40L305.30 733.40" stroke="#14ec14" stroke-width="2.6"/>
<path d="M289.30 753.70L305.30 769.70M289.30 769.70L305.30 753.70" stroke="#14ec14" stroke-width="2.6"/>
<path d="M432.30 678.10L448.30 694.10M432.30 694.10L448.30 678.10" stroke="#14ec14" stroke-width="2.6"/>
<path d="M325.10 728.40L341.10 744.40M325.10 744.40L341.10 728.40" stroke="#14ec14" stroke-width="2.6"/>
<path d="M337.20 741.50L353.20 757.50M337.20 757.50L353.20 741.50" stroke="#14ec14" stroke-width="2.6"/>
<path d="M360.10 732.80L376.10 748.80M360.10 748.80L376.10 732.80" stroke="#14ec14" stroke-width="2.6"/>
<path d="M384.20 719.70L400.20 735.70M384.20 735.70L400.20 719.70" stroke="#14ec14" stroke-width="2.6"/>
<path d="M336.10 771.10L352.10 787.10M336.10 787.10L352.10 771.10" stroke="#14ec14" stroke-width="2.6"/>
<path d="M433.40 736.10L449.40 752.10M433.40 752.10L449.40 736.10" stroke="#14ec14" stroke-width="2.6"/>
<path d="M481.50 731.70L497.50 747.70M481.50 747.70L497.50 731.70" stroke="#14ec14" stroke-width="2.6"/>
<path d="M421.40 752.50L437.40 768.50M421.40 768.50L437.40 752.50" stroke="#14ec14" stroke-width="2.6"/>
<path d="M460.80 750.30L476.80 766.30M460.80 766.30L476.80 750.30" stroke="#14ec14" stroke-width="2.6"/>
<path d="M433.40 770.00L449.40 786.00M433.40 786.00L449.40 770.00" stroke="#14ec14" stroke-width="2.6"/>
<path d="M324.00 871.50L340.00 887.50M324.00 887.50L340.00 871.50" stroke="#14ec14" stroke-width="2.6"/>
<path d="M300.40 777.10L316.40 793.10M300.40 793.10L316.40 777.10" stroke="#e02236" stroke-width="2.6"/>
<path d="M386.40 779.40L402.40 795.40M386.40 795.40L402.40 779.40" stroke="#e02236" stroke-width="2.6"/>
<path d="M216.10 810.60L232.10 826.60M216.10 826.60L232.10 810.60" stroke="#e02236" stroke-width="2.6"/>
<path d="M179.60 829.90L195.60 845.90M179.60 845.90L195.60 829.90" stroke="#e02236" stroke-width="2.6"/>
<path d="M240.50 847.20L256.50 863.20M240.50 863.20L256.50 847.20" stroke="#e02236" stroke-width="2.6"/>
<path d="M277.10 866.50L293.10 882.50M277.10 882.50L293.10 866.50" stroke="#e02236" stroke-width="2.6"/>
<path d="M397.30 817.90L413.30 833.90M397.30 833.90L413.30 817.90" stroke="#e02236" stroke-width="2.6"/>
<path d="M530.80 826.70L546.80 842.70M530.80 842.70L546.80 826.70" stroke="#e02236" stroke-width="2.6"/>
<circle cx="237.30" cy="708.90" r="25.10" fill="none" stroke="#555" stroke-width="1.3"/>
<circle cx="456.70" cy="686.10" r="24.60" fill="none" stroke="#555" stroke-width="1.3"/>
<circle cx="347.30" cy="880.60" r="25.20" fill="none" stroke="#555" stroke-width="1.3"/>
<text x="98.10" y="747.90" font-size="22.5" text-anchor="start" fill="#000">D4</text>
<text x="110.30" y="731.60" font-size="22.5" text-anchor="start" fill="#000">C6</text>
<text x="158.00" y="731.60" font-size="22.5" text-anchor="start" fill="#000">C4</text>
<text x="230.10" y="716.40" font-size="22.5" text-anchor="start" fill="#000">B3</text>
<text x="255.50" y="738.80" font-size="22.5" text-anchor="start" fill="#000">C5</text>
<text x="243.30" y="757.00" font-size="22.5" text-anchor="start" fill="#000">D5</text>
<text x="255.50" y="762.10" font-size="22.5" text-anchor="start" fill="#000">B4</text>
<text x="304.30" y="748.90" font-size="22.5" text-anchor="start" fill="#000">F4</text>
<text x="304.30" y="769.20" font-size="22.5" text-anchor="start" fill="#000">D2</text>
<text x="447.30" y="693.60" font-size="22.5" text-anchor="start" fill="#000">D3</text>
<text x="340.10" y="743.90" font-size="22.5" text-anchor="start" fill="#000">C1</text>
<text x="352.20" y="757.00" font-size="22.5" text-anchor="start" fill="#000">B6</text>
<text x="375.10" y="748.30" font-size="22.5" text-anchor="start" fill="#000">F5</text>
<text x="399.20" y="735.20" font-size="22.5" text-anchor="start" fill="#000">B1</text>
<text x="351.10" y="786.60" font-size="22.5" text-anchor="start" fill="#000">D1</text>
<text x="448.40" y="751.60" font-size="22.5" text-anchor="start" fill="#000">B2</text>
<text x="496.50" y="747.20" font-size="22.5" text-anchor="start" fill="#000">F1</text>
<text x="436.40" y="768.00" font-size="22.5" text-anchor="start" fill="#000">B5</text>
<text x="475.80" y="765.80" font-size="22.5" text-anchor="start" fill="#000">F3</text>
<text x="448.40" y="785.50" font-size="22.5" text-anchor="start" fill="#000">C2</text>
<text x="339.00" y="887.00" font-size="22.5" text-anchor="start" fill="#000">C3</text>
<text x="315.40" y="792.60" font-size="22.5" text-anchor="start" fill="#000">E5</text>
<text x="401.40" y="794.90" font-size="22.5" text-anchor="start" fill="#000">A3</text>
<text x="231.10" y="826.10" font-size="22.5" text-anchor="start" fill="#000">A6</text>
<text x="194.60" y="845.40" font-size="22.5" text-anchor="start" fill="#000">A5</text>
<text x="255.50" y="862.70" font-size="22.5" text-anchor="start" fill="#000">E3</text>
<text x="292.10" y="882.00" font-size="22.5" text-anchor="start" fill="#000">A1</text>
<text x="412.30" y="833.40" font-size="22.5" text-anchor="start" fill="#000">E2</text>
<text x="545.80" y="842.20" font-size="22.5" text-anchor="start" fill="#000">A2</text>
<path d="M91.25 615L91.25 995.9L590.4 995.9" fill="none" stroke="#8c8c8c" stroke-width="2"/>
<line x1="182.87" y1="995.90" x2="182.87" y2="990.90" stroke="#8c8c8c" stroke-width="1.5"/>
<text x="182.87" y="1031.90" font-size="36" text-anchor="middle" fill="#000">90</text>
<line x1="284.67" y1="995.90" x2="284.67" y2="990.90" stroke="#8c8c8c" stroke-width="1.5"/>
<text x="284.67" y="1031.90" font-size="36" text-anchor="middle" fill="#000">100</text>
<line x1="386.47" y1="995.90" x2="386.47" y2="990.90" stroke="#8c8c8c" stroke-width="1.5"/>
<text x="386.47" y="1031.90" font-size="36" text-anchor="middle" fill="#000">110</text>
<line x1="488.27" y1="995.90" x2="488.27" y2="990.90" stroke="#8c8c8c" stroke-width="1.5"/>
<text x="488.27" y="1031.90" font-size="36" text-anchor="middle" fill="#000">120</text>
<line x1="590.07" y1="995.90" x2="590.07" y2="990.90" stroke="#8c8c8c" stroke-width="1.5"/>
<text x="590.07" y="1031.90" font-size="36" text-anchor="middle" fill="#000">130</text>
<line x1="91.25" y1="995.90" x2="96.25" y2="995.90" stroke="#8c8c8c" stroke-width="1.5"/>
<text x="87.75" y="1009.11" font-size="36" text-anchor="end" fill="#000">0</text>
<line x1="91.25" y1="868.95" x2="96.25" y2="868.95" stroke="#8c8c8c" stroke-width="1.5"/>
<text x="87.75" y="882.16" font-size="36" text-anchor="end" fill="#000">0.5</text>
<line x1="91.25" y1="742.00" x2="96.25" y2="742.00" stroke="#8c8c8c" stroke-width="1.5"/>
<text x="87.75" y="755.21" font-size="36" text-anchor="end" fill="#000">1</text>
<line x1="91.25" y1="615.05" x2="96.25" y2="615.05" stroke="#8c8c8c" stroke-width="1.5"/>
<text x="87.75" y="628.26" font-size="36" text-anchor="end" fill="#000">1.5</text>
<text x="342.50" y="1060.40" font-size="35.58" text-anchor="middle" fill="#000">Average light intensity (% of 1 sun)</text>
<text x="0" y="0" font-size="35.77" text-anchor="middle" transform="translate(31.30,804.00) rotate(-90)">Relative short circuit current</text>
<text x="1.00" y="558.00" font-size="38" text-anchor="start" fill="#000">(c)</text>
<polyline points="768.50,669.52 776.38,669.74 784.27,669.96 792.15,670.16 800.03,670.34 807.92,670.51 815.80,670.67 823.68,670.81 831.57,670.93 839.45,671.04 847.33,671.14 855.22,671.22 863.10,671.28 870.98,671.34 878.87,671.37 886.75,671.39 894.63,671.40 902.52,671.39 910.40,671.37 918.28,671.33 926.17,671.27 934.05,671.21 941.93,671.12 949.82,671.03 957.70,670.91 965.58,670.79 973.47,670.64 981.35,670.49 989.23,670.31 997.12,670.13 1005.00,669.93 1012.88,669.71 1020.77,669.48 1028.65,669.23 1036.53,668.97 1044.42,668.69 1052.30,668.40 1060.18,668.10 1068.07,667.78 1075.95,667.44 1083.83,667.09 1091.72,666.72 1099.60,666.34 1107.48,665.95 1115.37,665.54 1123.25,665.11 1131.13,664.67 1139.02,664.22 1146.90,663.75 1154.78,663.27 1162.67,662.77 1170.55,662.25 1178.43,661.72 1186.32,661.18 1194.20,660.62 1202.08,660.05 1209.97,659.46 1217.85,658.86 1225.73,658.24 1233.62,657.61 1241.50,656.96" fill="none" stroke="#e02236" stroke-width="2.6" stroke-dasharray="8.6 4.9"/>
<polyline points="768.50,682.71 776.38,682.85 784.27,682.99 792.15,683.12 800.03,683.24 807.92,683.35 815.80,683.46 823.68,683.56 831.57,683.65 839.45,683.73 847.33,683.81 855.22,683.88 863.10,683.94 870.98,684.00 878.87,684.05 886.75,684.09 894.63,684.13 902.52,684.15 910.40,684.17 918.28,684.19 926.17,684.19 934.05,684.19 941.93,684.18 949.82,684.16 957.70,684.14 965.58,684.11 973.47,684.07 981.35,684.03 989.23,683.97 997.12,683.91 1005.00,683.85 1012.88,683.77 1020.77,683.69 1028.65,683.60 1036.53,683.51 1044.42,683.40 1052.30,683.29 1060.18,683.18 1068.07,683.05 1075.95,682.92 1083.83,682.78 1091.72,682.63 1099.60,682.48 1107.48,682.32 1115.37,682.15 1123.25,681.98 1131.13,681.79 1139.02,681.61 1146.90,681.41 1154.78,681.20 1162.67,680.99 1170.55,680.77 1178.43,680.55 1186.32,680.32 1194.20,680.08 1202.08,679.83 1209.97,679.57 1217.85,679.31 1225.73,679.04 1233.62,678.77 1241.50,678.48" fill="none" stroke="#14ec14" stroke-width="2.6" stroke-dasharray="8.6 4.9"/>
<polyline points="768.50,705.39 776.38,705.16 784.27,704.94 792.15,704.72 800.03,704.50 807.92,704.28 815.80,704.06 823.68,703.83 831.57,703.61 839.45,703.39 847.33,703.17 855.22,702.95 863.10,702.73 870.98,702.50 878.87,702.28 886.75,702.06 894.63,701.84 902.52,701.62 910.40,701.40 918.28,701.17 926.17,700.95 934.05,700.73 941.93,700.51 949.82,700.29 957.70,700.07 965.58,699.84 973.47,699.62 981.35,699.40 989.23,699.18 997.12,698.96 1005.00,698.74 1012.88,698.51 1020.77,698.29 1028.65,698.07 1036.53,697.85 1044.42,697.63 1052.30,697.41 1060.18,697.18 1068.07,696.96 1075.95,696.74 1083.83,696.52 1091.72,696.30 1099.60,696.08 1107.48,695.85 1115.37,695.63 1123.25,695.41 1131.13,695.19 1139.02,694.97 1146.90,694.75 1154.78,694.52 1162.67,694.30 1170.55,694.08 1178.43,693.86 1186.32,693.64 1194.20,693.42 1202.08,693.19 1209.97,692.97 1217.85,692.75 1225.73,692.53 1233.62,692.31 1241.50,692.09" fill="none" stroke="#e02236" stroke-width="2.6"/>
<polyline points="768.50,733.80 776.38,733.73 784.27,733.67 792.15,733.61 800.03,733.54 807.92,733.48 815.80,733.42 823.68,733.35 831.57,733.29 839.45,733.23 847.33,733.16 855.22,733.10 863.10,733.04 870.98,732.97 878.87,732.91 886.75,732.85 894.63,732.78 902.52,732.72 910.40,732.66 918.28,732.59 926.17,732.53 934.05,732.47 941.93,732.40 949.82,732.34 957.70,732.28 965.58,732.21 973.47,732.15 981.35,732.09 989.23,732.02 997.12,731.96 1005.00,731.90 1012.88,731.83 1020.77,731.77 1028.65,731.71 1036.53,731.64 1044.42,731.58 1052.30,731.52 1060.18,731.45 1068.07,731.39 1075.95,731.33 1083.83,731.26 1091.72,731.20 1099.60,731.14 1107.48,731.07 1115.37,731.01 1123.25,730.95 1131.13,730.88 1139.02,730.82 1146.90,730.76 1154.78,730.69 1162.67,730.63 1170.55,730.57 1178.43,730.50 1186.32,730.44 1194.20,730.38 1202.08,730.31 1209.97,730.25 1217.85,730.19 1225.73,730.12 1233.62,730.06 1241.50,730.00" fill="none" stroke="#14ec14" stroke-width="2.6"/>
<polyline points="768.50,741.56 776.38,740.96 784.27,740.37 792.15,739.79 800.03,739.22 807.92,738.67 815.80,738.13 823.68,737.60 831.57,737.08 839.45,736.58 847.33,736.08 855.22,735.60 863.10,735.14 870.98,734.68 878.87,734.24 886.75,733.81 894.63,733.39 902.52,732.99 910.40,732.59 918.28,732.21 926.17,731.84 934.05,731.49 941.93,731.14 949.82,730.81 957.70,730.49 965.58,730.18 973.47,729.89 981.35,729.61 989.23,729.34 997.12,729.08 1005.00,728.83 1012.88,728.60 1020.77,728.38 1028.65,728.17 1036.53,727.97 1044.42,727.79 1052.30,727.62 1060.18,727.46 1068.07,727.31 1075.95,727.18 1083.83,727.06 1091.72,726.95 1099.60,726.85 1107.48,726.77 1115.37,726.69 1123.25,726.63 1131.13,726.58 1139.02,726.55 1146.90,726.53 1154.78,726.51 1162.67,726.52 1170.55,726.53 1178.43,726.56 1186.32,726.59 1194.20,726.64 1202.08,726.71 1209.97,726.78 1217.85,726.87 1225.73,726.97 1233.62,727.08 1241.50,727.21" fill="none" stroke="#e02236" stroke-width="2.6" stroke-dasharray="8.6 4.9"/>
<polyline points="768.50,785.78 776.38,785.47 784.27,785.17 792.15,784.87 800.03,784.59 807.92,784.31 815.80,784.05 823.68,783.79 831.57,783.54 839.45,783.30 847.33,783.07 855.22,782.84 863.10,782.63 870.98,782.42 878.87,782.23 886.75,782.04 894.63,781.86 902.52,781.69 910.40,781.53 918.28,781.38 926.17,781.23 934.05,781.10 941.93,780.97 949.82,780.85 957.70,780.75 965.58,780.65 973.47,780.56 981.35,780.47 989.23,780.40 997.12,780.34 1005.00,780.28 1012.88,780.23 1020.77,780.20 1028.65,780.17 1036.53,780.15 1044.42,780.14 1052.30,780.13 1060.18,780.14 1068.07,780.15 1075.95,780.18 1083.83,780.21 1091.72,780.25 1099.60,780.30 1107.48,780.36 1115.37,780.43 1123.25,780.51 1131.13,780.59 1139.02,780.69 1146.90,780.79 1154.78,780.90 1162.67,781.02 1170.55,781.15 1178.43,781.29 1186.32,781.44 1194.20,781.59 1202.08,781.76 1209.97,781.93 1217.85,782.11 1225.73,782.30 1233.62,782.50 1241.50,782.71" fill="none" stroke="#14ec14" stroke-width="2.6" stroke-dasharray="8.6 4.9"/>
<path d="M824.10 698.00L840.10 714.00M824.10 714.00L840.10 698.00" stroke="#14ec14" stroke-width="2.6"/>
<path d="M925.70 686.80L941.70 702.80M925.70 702.80L941.70 686.80" stroke="#14ec14" stroke-width="2.6"/>
<path d="M914.50 714.30L930.50 730.30M914.50 730.30L930.50 714.30" stroke="#14ec14" stroke-width="2.6"/>
<path d="M901.30 736.60L917.30 752.60M901.30 752.60L917.30 736.60" stroke="#14ec14" stroke-width="2.6"/>
<path d="M926.70 741.70L942.70 757.70M926.70 757.70L942.70 741.70" stroke="#14ec14" stroke-width="2.6"/>
<path d="M773.30 738.60L789.30 754.60M773.30 754.60L789.30 738.60" stroke="#14ec14" stroke-width="2.6"/>
<path d="M759.10 753.90L775.10 769.90M759.10 769.90L775.10 753.90" stroke="#14ec14" stroke-width="2.6"/>
<path d="M977.50 747.80L993.50 763.80M977.50 763.80L993.50 747.80" stroke="#14ec14" stroke-width="2.6"/>
<path d="M977.50 755.90L993.50 771.90M977.50 771.90L993.50 755.90" stroke="#14ec14" stroke-width="2.6"/>
<path d="M1029.60 697.70L1045.60 713.70M1029.60 713.70L1045.60 697.70" stroke="#14ec14" stroke-width="2.6"/>
<path d="M1029.60 731.70L1045.60 747.70M1029.60 747.70L1045.60 731.70" stroke="#14ec14" stroke-width="2.6"/>
<path d="M1080.50 741.90L1096.50 757.90M1080.50 757.90L1096.50 741.90" stroke="#14ec14" stroke-width="2.6"/>
<path d="M1055.60 756.60L1071.60 772.60M1055.60 772.60L1071.60 756.60" stroke="#14ec14" stroke-width="2.6"/>
<path d="M1016.00 780.40L1032.00 796.40M1016.00 796.40L1032.00 780.40" stroke="#14ec14" stroke-width="2.6"/>
<path d="M1131.50 704.50L1147.50 720.50M1131.50 720.50L1147.50 704.50" stroke="#14ec14" stroke-width="2.6"/>
<path d="M1131.50 710.20L1147.50 726.20M1131.50 726.20L1147.50 710.20" stroke="#14ec14" stroke-width="2.6"/>
<path d="M1119.00 724.90L1135.00 740.90M1119.00 740.90L1135.00 724.90" stroke="#14ec14" stroke-width="2.6"/>
<path d="M1131.50 741.90L1147.50 757.90M1131.50 757.90L1147.50 741.90" stroke="#14ec14" stroke-width="2.6"/>
<path d="M1158.70 738.50L1174.70 754.50M1158.70 754.50L1174.70 738.50" stroke="#14ec14" stroke-width="2.6"/>
<path d="M1181.40 741.90L1197.40 757.90M1181.40 757.90L1197.40 741.90" stroke="#14ec14" stroke-width="2.6"/>
<path d="M965.30 651.30L981.30 667.30M965.30 667.30L981.30 651.30" stroke="#e02236" stroke-width="2.6"/>
<path d="M863.70 683.80L879.70 699.80M863.70 699.80L879.70 683.80" stroke="#e02236" stroke-width="2.6"/>
<path d="M901.30 695.00L917.30 711.00M901.30 711.00L917.30 695.00" stroke="#e02236" stroke-width="2.6"/>
<path d="M926.70 727.50L942.70 743.50M926.70 743.50L942.70 727.50" stroke="#e02236" stroke-width="2.6"/>
<path d="M990.70 716.30L1006.70 732.30M990.70 732.30L1006.70 716.30" stroke="#e02236" stroke-width="2.6"/>
<path d="M1093.00 676.20L1109.00 692.20M1093.00 692.20L1109.00 676.20" stroke="#e02236" stroke-width="2.6"/>
<path d="M1080.50 690.90L1096.50 706.90M1080.50 706.90L1096.50 690.90" stroke="#e02236" stroke-width="2.6"/>
<path d="M1233.50 687.50L1249.50 703.50M1233.50 703.50L1249.50 687.50" stroke="#e02236" stroke-width="2.6"/>
<text x="839.10" y="713.50" font-size="22.5" text-anchor="start" fill="#000">C4</text>
<text x="940.70" y="702.30" font-size="22.5" text-anchor="start" fill="#000">B4</text>
<text x="929.50" y="729.80" font-size="22.5" text-anchor="start" fill="#000">D5</text>
<text x="916.30" y="752.10" font-size="22.5" text-anchor="start" fill="#000">B3</text>
<text x="941.70" y="757.20" font-size="22.5" text-anchor="start" fill="#000">C5</text>
<text x="788.30" y="754.10" font-size="22.5" text-anchor="start" fill="#000">C6</text>
<text x="774.10" y="769.40" font-size="22.5" text-anchor="start" fill="#000">D4</text>
<text x="992.50" y="763.30" font-size="22.5" text-anchor="start" fill="#000">D2</text>
<text x="992.50" y="771.40" font-size="22.5" text-anchor="start" fill="#000">F4</text>
<text x="1044.60" y="713.20" font-size="22.5" text-anchor="start" fill="#000">D1</text>
<text x="1044.60" y="747.20" font-size="22.5" text-anchor="start" fill="#000">B6</text>
<text x="1095.50" y="757.40" font-size="22.5" text-anchor="start" fill="#000">B1</text>
<text x="1070.60" y="772.10" font-size="22.5" text-anchor="start" fill="#000">F5</text>
<text x="1031.00" y="795.90" font-size="22.5" text-anchor="start" fill="#000">C1</text>
<text x="1146.50" y="720.00" font-size="22.5" text-anchor="start" fill="#000">C3</text>
<text x="1146.50" y="725.70" font-size="22.5" text-anchor="start" fill="#000">B2</text>
<text x="1134.00" y="740.40" font-size="22.5" text-anchor="start" fill="#000">B5</text>
<text x="1146.50" y="757.40" font-size="22.5" text-anchor="start" fill="#000">D3</text>
<text x="1173.70" y="754.00" font-size="22.5" text-anchor="start" fill="#000">F3</text>
<text x="1196.40" y="757.40" font-size="22.5" text-anchor="start" fill="#000">F1</text>
<text x="980.30" y="666.80" font-size="22.5" text-anchor="start" fill="#000">A1</text>
<text x="878.70" y="699.30" font-size="22.5" text-anchor="start" fill="#000">A5</text>
<text x="916.30" y="710.50" font-size="22.5" text-anchor="start" fill="#000">A6</text>
<text x="941.70" y="743.00" font-size="22.5" text-anchor="start" fill="#000">E3</text>
<text x="1005.70" y="731.80" font-size="22.5" text-anchor="start" fill="#000">E5</text>
<text x="1108.00" y="691.70" font-size="22.5" text-anchor="start" fill="#000">E2</text>
<text x="1095.50" y="706.40" font-size="22.5" text-anchor="start" fill="#000">A3</text>
<text x="1248.50" y="703.00" font-size="22.5" text-anchor="start" fill="#000">A2</text>
<path d="M768.5 622.5L768.5 997.4L1241.5 997.4" fill="none" stroke="#8c8c8c" stroke-width="2"/>
<line x1="865.34" y1="997.40" x2="865.34" y2="992.40" stroke="#8c8c8c" stroke-width="1.5"/>
<text x="865.34" y="1033.40" font-size="35.2" text-anchor="middle" fill="#000">90</text>
<line x1="972.94" y1="997.40" x2="972.94" y2="992.40" stroke="#8c8c8c" stroke-width="1.5"/>
<text x="972.94" y="1033.40" font-size="35.2" text-anchor="middle" fill="#000">100</text>
<line x1="1080.54" y1="997.40" x2="1080.54" y2="992.40" stroke="#8c8c8c" stroke-width="1.5"/>
<text x="1080.54" y="1033.40" font-size="35.2" text-anchor="middle" fill="#000">110</text>
<line x1="1188.14" y1="997.40" x2="1188.14" y2="992.40" stroke="#8c8c8c" stroke-width="1.5"/>
<text x="1188.14" y="1033.40" font-size="35.2" text-anchor="middle" fill="#000">120</text>
<line x1="768.50" y1="997.40" x2="773.50" y2="997.40" stroke="#8c8c8c" stroke-width="1.5"/>
<text x="765.00" y="1010.32" font-size="35.2" text-anchor="end" fill="#000">0.8</text>
<line x1="768.50" y1="903.68" x2="773.50" y2="903.68" stroke="#8c8c8c" stroke-width="1.5"/>
<text x="765.00" y="916.59" font-size="35.2" text-anchor="end" fill="#000">0.85</text>
<line x1="768.50" y1="809.95" x2="773.50" y2="809.95" stroke="#8c8c8c" stroke-width="1.5"/>
<text x="765.00" y="822.87" font-size="35.2" text-anchor="end" fill="#000">0.9</text>
<line x1="768.50" y1="716.23" x2="773.50" y2="716.23" stroke="#8c8c8c" stroke-width="1.5"/>
<text x="765.00" y="729.14" font-size="35.2" text-anchor="end" fill="#000">0.95</text>
<line x1="768.50" y1="622.50" x2="773.50" y2="622.50" stroke="#8c8c8c" stroke-width="1.5"/>
<text x="765.00" y="635.42" font-size="35.2" text-anchor="end" fill="#000">1</text>
<text x="1006.75" y="1061.90" font-size="35.03" text-anchor="middle" fill="#000">Average light intensity (% of 1 sun)</text>
<text x="0" y="0" font-size="35.2" text-anchor="middle" transform="translate(693.50,808.10) rotate(-90)">Relative open circuit voltage</text>
<text x="662.00" y="560.00" font-size="38" text-anchor="start" fill="#000">(d)</text>
<rect x="1010.1" y="359.3" width="230.8" height="84" fill="#fff" stroke="#555" stroke-width="1.3"/>
<path d="M1025.10 372.90L1041.10 388.90M1025.10 388.90L1041.10 372.90" stroke="#e02236" stroke-width="2.6"/>
<path d="M1025.00 413.30L1041.00 429.30M1025.00 429.30L1041.00 413.30" stroke="#14ec14" stroke-width="2.6"/>
<text x="1053.00" y="393.60" font-size="36" text-anchor="start" fill="#000">Unpur. MPN</text>
<text x="1052.00" y="434.10" font-size="36" text-anchor="start" fill="#000">Pur. MPN</text>
</g></svg></body></html>
